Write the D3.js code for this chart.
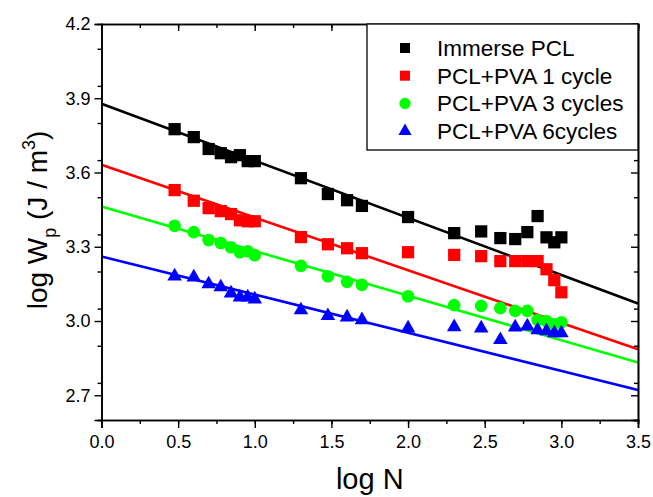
<!DOCTYPE html>
<html>
<head>
<meta charset="utf-8">
<script src="https://d3js.org/d3.v7.min.js"></script>
<style>
  body { margin: 0; background: #fff; }
  text { font-family: Arial, "Liberation Sans", sans-serif; }
</style>
</head>
<body>
<svg id="chart" width="653" height="497"></svg>
<script>
  // log N values shared by all series
  const logN = [0.477, 0.602, 0.699, 0.778, 0.845, 0.903, 0.954, 1.0, 1.301, 1.477, 1.602, 1.699,
    2.0, 2.301, 2.477, 2.602, 2.699, 2.778, 2.845, 2.903, 2.954, 3.0];

  const immersePCL = [3.775, 3.743, 3.695, 3.678, 3.662, 3.670, 3.646, 3.646, 3.577, 3.513, 3.488, 3.465,
    3.420, 3.355, 3.362, 3.335, 3.331, 3.359, 3.424, 3.338, 3.318, 3.338];
  const pva1 = [3.529, 3.486, 3.456, 3.444, 3.432, 3.407, 3.403, 3.403, 3.339, 3.310, 3.294, 3.274,
    3.278, 3.267, 3.262, 3.242, 3.242, 3.242, 3.242, 3.209, 3.165, 3.116];
  const pva3 = [3.385, 3.359, 3.327, 3.315, 3.298, 3.278, 3.282, 3.266, 3.223, 3.181, 3.158, 3.146,
    3.100, 3.064, 3.061, 3.052, 3.041, 3.041, 3.004, 3.000, 2.987, 2.995];
  const pva6 = [3.181, 3.177, 3.149, 3.137, 3.112, 3.096, 3.096, 3.088, 3.044, 3.021, 3.015, 3.004,
    2.971, 2.976, 2.971, 2.924, 2.975, 2.979, 2.963, 2.959, 2.951, 2.951];

  // linear fits: [intercept, slope]
  const fits = [[3.878, -0.2306], [3.631, -0.2129], [3.463, -0.1803], [3.261, -0.1543]];

  const names = ["Immerse PCL", "PCL+PVA 1 cycle", "PCL+PVA 3 cycles", "PCL+PVA 6cycles"];
  const colors = ["#000000", "#ff0000", "#00ff00", "#0000ff"];
  const shapes = [d3.symbolSquare, d3.symbolSquare, d3.symbolCircle, d3.symbolTriangle];
  const sizes = [150, 150, 125, 92];
  const legendSizes = [100, 100, 100, 75];

  const xTicks = [0.0, 0.5, 1.0, 1.5, 2.0, 2.5, 3.0, 3.5];
  const yTicks = [2.7, 3.0, 3.3, 3.6, 3.9, 4.2];

  const series = [immersePCL, pva1, pva3, pva6];

  const svg = d3.select("#chart");
  const mLeft = 101.5, mRight = 638, mTop = 24, mBottom = 420;

  const x = d3.scaleLinear().domain([0, 3.5]).range([mLeft, mRight]);
  const y = d3.scaleLinear().domain([2.6, 4.2]).range([mBottom, mTop]);

  // fit lines
  const line = d3.line().x(d => x(d[0])).y(d => y(d[1]));
  fits.forEach((f, i) => {
    svg.append("path")
      .attr("d", line([[0, f[0]], [3.5, f[0] + f[1] * 3.5]]))
      .attr("stroke", colors[i])
      .attr("stroke-width", 2.6)
      .attr("fill", "none");
  });

  // markers
  series.forEach((vals, i) => {
    const sym = d3.symbol().type(shapes[i]).size(sizes[i]);
    svg.append("g").selectAll("path")
      .data(vals)
      .join("path")
      .attr("transform", (d, j) => `translate(${x(logN[j])},${y(d)})`)
      .attr("d", sym)
      .attr("fill", colors[i]);
  });

  // axes
  const xMinor = d3.range(0, 3.51, 0.25);
  const yMinor = d3.range(2.6, 4.21, 0.15);

  const xAxis = d3.axisBottom(x).tickValues(xTicks).tickFormat(d3.format(".1f")).tickSize(8).tickPadding(4);
  const gx = svg.append("g").attr("transform", `translate(0,${mBottom})`).call(xAxis);
  const yAxis = d3.axisLeft(y).tickValues(yTicks).tickFormat(d3.format(".1f")).tickSize(7).tickPadding(4);
  const gy = svg.append("g").attr("transform", `translate(${mLeft},0)`).call(yAxis);

  svg.append("g").attr("transform", `translate(0,${mBottom})`)
    .call(d3.axisBottom(x).tickValues(xMinor).tickSize(4).tickFormat(""));
  svg.append("g").attr("transform", `translate(${mLeft},0)`)
    .call(d3.axisLeft(y).tickValues(yMinor).tickSize(4).tickFormat(""));
  svg.append("g").attr("transform", `translate(0,${mTop})`)
    .call(d3.axisBottom(x).tickValues(xTicks).tickSize(7).tickFormat(""));
  svg.append("g").attr("transform", `translate(0,${mTop})`)
    .call(d3.axisBottom(x).tickValues(xMinor).tickSize(4).tickFormat(""));
  svg.append("g").attr("transform", `translate(${mRight},0)`)
    .call(d3.axisLeft(y).tickValues(yTicks).tickSize(7).tickFormat(""));
  svg.append("g").attr("transform", `translate(${mRight},0)`)
    .call(d3.axisLeft(y).tickValues(yMinor).tickSize(4).tickFormat(""));

  svg.selectAll(".domain").attr("stroke", "#000").attr("stroke-width", 1.6);
  svg.selectAll(".tick line").attr("stroke", "#000").attr("stroke-width", 1.4);
  svg.selectAll(".tick text").attr("font-size", 18).attr("fill", "#000")
    .style("font-family", "Arial, 'Liberation Sans', sans-serif");
  gx.selectAll(".tick text").attr("dy", "0.9em");

  // legend
  const lg = svg.append("g");
  lg.append("rect")
    .attr("x", 367).attr("y", mTop).attr("width", mRight - 367).attr("height", 126)
    .attr("fill", "#fff").attr("stroke", "#000").attr("stroke-width", 1.3);
  names.forEach((n, i) => {
    const cy = 48 + i * 27.7;
    lg.append("path")
      .attr("transform", `translate(405,${cy})`)
      .attr("d", d3.symbol().type(shapes[i]).size(legendSizes[i]))
      .attr("fill", colors[i]);
    lg.append("text")
      .attr("x", 437).attr("y", cy + 8)
      .attr("font-size", 22.5)
      .text(n);
  });

  // axis titles
  svg.append("text")
    .attr("x", (mLeft + mRight) / 2).attr("y", 489)
    .attr("text-anchor", "middle")
    .attr("font-size", 29)
    .text("log N");

  const yt = svg.append("text")
    .attr("transform", "translate(47,220) rotate(-90)")
    .attr("text-anchor", "middle")
    .attr("font-size", 28);
  yt.append("tspan").text("log W");
  yt.append("tspan").attr("font-size", 18).attr("dy", 9).text("p");
  yt.append("tspan").attr("dy", -9).text(" (J / m");
  yt.append("tspan").attr("font-size", 18).attr("dy", -12).text("3");
  yt.append("tspan").attr("dy", 12).text(")");
</script>
</body>
</html>
